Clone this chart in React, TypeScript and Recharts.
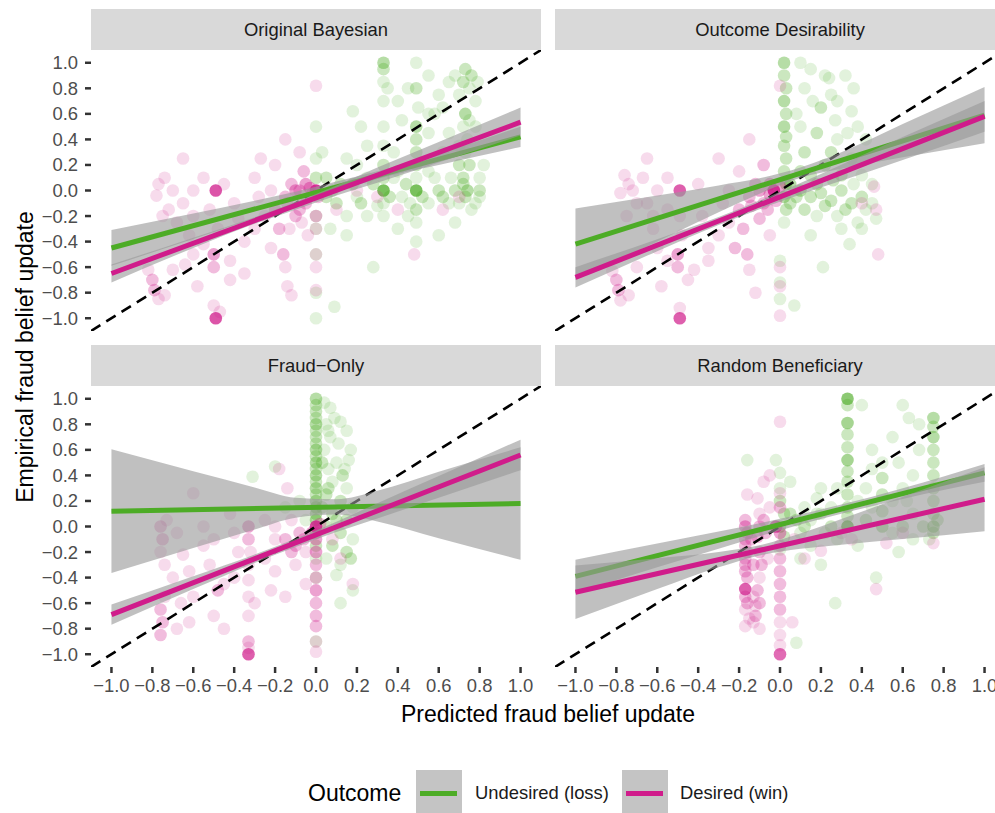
import React from 'react';
import { ComposedChart, Scatter, Line, Area, XAxis, YAxis } from 'recharts';

const FONT = '"Liberation Sans", Arial, Helvetica, sans-serif';
const GREEN = '#4dac26';
const PINK = '#d01c8b';

// [predicted, empirical, how many answers sit on that spot]
type Pt = [number, number, number];

const panelTitles = ['Original Bayesian', 'Outcome Desirability', 'Fraud\u2212Only', 'Random Beneficiary'];
const outcomeLabels = ['Undesired (loss)', 'Desired (win)'];
const axisTicks = [-1, -0.8, -0.6, -0.4, -0.2, 0, 0.2, 0.4, 0.6, 0.8, 1];
const bandX = [-1, -0.6, -0.3, -0.1, 0.1, 0.3, 0.6, 1];
const fitX = [-1, 1];
const identityX = [-1.1, 1.1];

// ---------- Original Bayesian ----------
const obLoss: Pt[] = [
  [0.33, 0, 8], [0.49, 0, 8],
  [0.33, 1.0, 3], [0.33, 0.95, 2], [0.33, 0.85, 1], [0.33, 0.7, 1], [0.33, 0.5, 1], [0.33, 0.35, 1], [0.33, 0.2, 2], [0.33, 0.1, 2], [0.33, -0.1, 1], [0.33, -0.2, 1],
  [0.49, 1.0, 1], [0.49, 0.8, 2], [0.49, 0.5, 3], [0.49, 0.4, 2], [0.49, 0.3, 2], [0.49, 0.2, 2], [0.49, 0.1, 1], [0.49, -0.15, 2], [0.49, -0.4, 1], [0.49, -0.25, 1],
  [0.73, 0.95, 2], [0.76, 0.9, 2], [0.72, 0.85, 2], [0.75, 0.8, 1], [0.7, 0.75, 1], [0.73, 0.6, 3], [0.75, 0.55, 1], [0.72, 0.5, 1], [0.74, 0.4, 1], [0.73, 0.3, 1], [0.75, 0.2, 2], [0.72, 0.1, 2], [0.74, 0.0, 3], [0.73, -0.05, 2], [0.7, -0.1, 1], [0.76, -0.15, 1], [0.72, 0.05, 2],
  [0.65, 0.85, 1], [0.6, 0.75, 1], [0.58, 0.6, 1], [0.65, 0.45, 1], [0.62, 0.3, 1], [0.6, 0.0, 2], [0.65, -0.1, 1], [0.68, -0.25, 1], [0.8, 0.1, 1], [0.8, -0.05, 1], [0.82, 0.2, 1], [0.79, 0.85, 1], [0.78, 0.7, 1],
  [0.4, 0.7, 1], [0.42, 0.55, 1], [0.45, 0.8, 1], [0.38, 0.3, 1], [0.4, 0.15, 1], [0.42, -0.05, 1], [0.4, -0.3, 1], [0.55, 0.9, 1], [0.55, 0.45, 1], [0.55, 0.15, 1], [0.55, -0.1, 1], [0.55, 0.6, 1],
  [0.22, 0.5, 1], [0.25, 0.35, 1], [0.2, 0.2, 1], [0.25, 0.1, 1], [0.2, -0.05, 1], [0.25, -0.2, 1], [0.15, 0.25, 1], [0.12, 0.05, 2], [0.1, -0.1, 2], [0.15, -0.2, 1], [0.15, -0.35, 1], [0.18, 0.62, 1],
  [0.05, 0.1, 2], [0.05, -0.05, 2], [0.07, -0.3, 1], [0.03, 0.3, 1],
  [0, 0.5, 1], [0, 0.25, 1], [0, 0.1, 2], [0, -0.2, 1], [0, -0.3, 1], [0, -0.5, 1], [0, -0.8, 1], [0, -1.0, 1],
  [0.28, -0.6, 1], [0.09, -0.91, 1], [0.6, -0.35, 1], [0.45, -0.2, 1],
  [0.08, 0.0, 2], [0.18, 0.05, 2], [0.22, -0.1, 2], [0.28, 0.05, 2], [0.3, -0.12, 1], [0.36, -0.05, 2], [0.38, 0.1, 1], [0.44, 0.05, 2], [0.46, -0.1, 1], [0.52, -0.05, 2], [0.58, 0.1, 1], [0.62, -0.05, 2], [0.66, 0.1, 1], [0.68, 0.0, 2], [0.78, -0.1, 1], [0.8, 0.0, 2], [0.7, 0.35, 1], [0.78, 0.5, 1], [0.68, 0.9, 1], [0.62, 0.65, 1], [0.7, 0.2, 2], [0.35, 0.8, 1], [0.5, 0.65, 1],
];
const obWin: Pt[] = [
  [-0.49, 0, 8], [-0.49, -1, 8],
  [0, 0, 12], [-0.02, -0.03, 3], [-0.03, 0.02, 3], [0.01, -0.05, 2],
  [0, 0.82, 1], [-0.65, 0.25, 1],
  [-0.74, 0.1, 1], [-0.77, 0.05, 1], [-0.7, 0.0, 1], [-0.78, -0.04, 1], [-0.72, -0.15, 1], [-0.75, -0.2, 1], [-0.68, -0.25, 1],
  [-0.8, -0.7, 2], [-0.79, -0.78, 2], [-0.77, -0.85, 1], [-0.74, -0.82, 1], [-0.82, -0.62, 1], [-0.7, -0.62, 1],
  [-0.62, -0.35, 1], [-0.6, -0.5, 1], [-0.64, -0.58, 1], [-0.58, -0.75, 1], [-0.55, -0.42, 1],
  [-0.5, -0.5, 3], [-0.5, -0.6, 2], [-0.52, -0.15, 1], [-0.48, -0.3, 1], [-0.5, -0.9, 1], [-0.47, -0.95, 1],
  [-0.45, 0.05, 1], [-0.4, -0.1, 1], [-0.38, -0.22, 1], [-0.42, -0.55, 1], [-0.35, -0.65, 1],
  [-0.3, 0.1, 1], [-0.28, -0.05, 1], [-0.25, -0.2, 1], [-0.27, 0.25, 1], [-0.22, -0.45, 1], [-0.2, 0.2, 1],
  [-0.15, 0.4, 1], [-0.12, 0.05, 2], [-0.14, -0.1, 2], [-0.1, -0.2, 2], [-0.13, -0.3, 1], [-0.16, -0.5, 2], [-0.15, -0.6, 1], [-0.14, -0.75, 1], [-0.12, -0.82, 1],
  [-0.08, 0.3, 1], [-0.06, 0.15, 2], [-0.05, -0.1, 2], [-0.07, -0.25, 1], [-0.04, -0.35, 1], [-0.08, 0.0, 2],
  [0, -0.2, 2], [0, -0.3, 1], [0, -0.5, 1], [0, -0.6, 1], [0, -0.78, 1],
  [0.1, -0.15, 1], [0.2, 0.0, 1], [0.3, -0.05, 1], [0.48, -0.5, 1], [0.62, -0.15, 1], [0.7, -0.05, 1], [0.4, -0.15, 1],
  [-0.1, 0.0, 3], [-0.05, 0.05, 3], [-0.15, -0.05, 2], [-0.2, -0.15, 2], [-0.18, -0.3, 2], [-0.08, -0.15, 2], [-0.22, 0.0, 1], [-0.3, -0.3, 1], [-0.35, -0.4, 1], [-0.6, 0.0, 1], [-0.65, -0.1, 1], [-0.6, -0.2, 1], [-0.55, 0.1, 1], [-0.42, -0.7, 1],
];
const obLossFit = [-0.45, 0.42];
const obWinFit = [-0.65, 0.535];
const obLossLo = [-0.59, -0.38, -0.22, -0.11, -0.01, 0.09, 0.2, 0.34];
const obLossHi = [-0.31, -0.18, -0.08, -0.01, 0.07, 0.15, 0.29, 0.5];
const obWinLo = [-0.72, -0.45, -0.26, -0.15, -0.04, 0.06, 0.22, 0.43];
const obWinHi = [-0.58, -0.37, -0.21, -0.09, 0.04, 0.18, 0.38, 0.65];

// ---------- Outcome Desirability ----------
const odLoss: Pt[] = [
  [0.02, 1.0, 3], [0.02, 0.9, 2], [0.03, 0.8, 2], [0.02, 0.7, 3], [0.03, 0.6, 2], [0.02, 0.5, 3], [0.03, 0.42, 2], [0.02, 0.35, 2], [0.03, 0.25, 2], [0.02, 0.15, 2], [0.03, 0.05, 3], [0.02, -0.05, 3], [0.03, -0.15, 2], [0.02, -0.25, 1],
  [0.1, 1.0, 1], [0.15, 0.95, 1], [0.22, 0.9, 1], [0.25, 0.75, 1], [0.36, 0.8, 1], [0.2, 0.65, 2], [0.27, 0.55, 1], [0.35, 0.62, 1], [0.38, 0.5, 1], [0.18, 0.45, 2], [0.28, 0.4, 1], [0.42, 0.4, 1], [0.25, 0.3, 2], [0.22, 0.2, 2], [0.35, 0.25, 1], [0.3, 0.12, 2], [0.12, 0.3, 2], [0.1, 0.15, 2], [0.08, 0.6, 1], [0.12, 0.8, 1], [0.32, 0.9, 1],
  [0.1, 0.0, 3], [0.15, -0.05, 2], [0.2, -0.02, 2], [0.25, -0.08, 2], [0.3, 0.0, 2], [0.35, -0.1, 2], [0.4, -0.05, 2], [0.45, 0.05, 1], [0.12, -0.15, 2], [0.18, -0.2, 1], [0.28, -0.2, 1], [0.38, -0.25, 1], [0.42, -0.15, 1], [0.05, -0.1, 2], [0.47, -0.22, 1],
  [0.34, -0.42, 1], [0.21, -0.6, 1], [0.07, -0.9, 1], [0.4, -0.3, 1], [0.15, -0.35, 1],
  [0, -0.55, 1], [0, -0.72, 1], [0, -0.85, 1],
  [0.05, 0.05, 3], [0.08, -0.05, 2], [0.18, 0.05, 2], [0.22, -0.12, 2], [0.26, 0.08, 2], [0.32, -0.15, 2], [0.36, 0.05, 1], [0.4, 0.12, 1], [0.15, 0.12, 2], [0.3, -0.3, 1], [0.1, 0.5, 1], [0.16, 0.7, 1], [0.28, 0.7, 1], [0.33, 0.45, 1], [0.24, 0.88, 1], [0.45, -0.1, 1],
];
const odWin: Pt[] = [
  [-0.49, 0, 7], [-0.49, -1, 7],
  [-0.03, 0.0, 12], [-0.05, -0.03, 3], [0.0, 0.03, 3], [-0.02, -0.08, 2],
  [0, 0.82, 1], [-0.65, 0.25, 1],
  [-0.76, 0.12, 1], [-0.74, 0.05, 1], [-0.78, -0.02, 1], [-0.7, -0.1, 1], [-0.75, -0.2, 1], [-0.72, 0.0, 1], [-0.67, 0.1, 1],
  [-0.8, -0.7, 2], [-0.79, -0.78, 2], [-0.78, -0.86, 1], [-0.74, -0.82, 1], [-0.82, -0.63, 1], [-0.7, -0.6, 1],
  [-0.62, -0.3, 1], [-0.6, -0.45, 1], [-0.58, -0.75, 1], [-0.55, -0.55, 1], [-0.55, -0.15, 1],
  [-0.5, -0.5, 3], [-0.5, -0.6, 2], [-0.49, -0.2, 1], [-0.48, -0.35, 1], [-0.49, -0.92, 1],
  [-0.4, 0.05, 1], [-0.38, -0.2, 1], [-0.42, -0.62, 1], [-0.35, -0.45, 1], [-0.3, 0.25, 1], [-0.28, -0.1, 1], [-0.25, -0.25, 1], [-0.22, -0.45, 2], [-0.2, 0.15, 1],
  [-0.15, 0.4, 1], [-0.12, 0.05, 2], [-0.14, -0.12, 2], [-0.1, -0.22, 2], [-0.16, -0.5, 2], [-0.15, -0.62, 1], [-0.12, -0.8, 1], [-0.05, -0.35, 1], [-0.08, 0.2, 2], [-0.06, -0.15, 2],
  [0, -0.6, 1], [0, -0.75, 1], [0, -0.98, 1], [0.47, -0.15, 1], [0.48, -0.5, 1], [0.46, 0.03, 1], [0.4, -0.1, 1],
  [-0.1, 0.0, 3], [-0.05, 0.05, 3], [-0.15, -0.05, 2], [-0.2, -0.15, 2], [-0.18, -0.3, 2], [-0.08, -0.1, 2], [-0.25, 0.0, 1], [-0.3, -0.35, 1], [-0.6, 0.0, 1], [-0.65, -0.1, 1], [-0.62, -0.2, 1], [-0.55, 0.1, 1], [-0.45, -0.7, 1], [-0.35, -0.55, 1],
];
const odLossFit = [-0.42, 0.59];
const odWinFit = [-0.68, 0.58];
const odLossLo = [-0.7, -0.4, -0.17, -0.025, 0.1, 0.17, 0.26, 0.37];
const odLossHi = [-0.14, -0.04, 0.04, 0.095, 0.18, 0.3, 0.52, 0.81];
const odWinLo = [-0.76, -0.475, -0.27, -0.147, -0.032, 0.076, 0.238, 0.46];
const odWinHi = [-0.6, -0.381, -0.208, -0.079, 0.058, 0.202, 0.418, 0.7];

// ---------- Fraud-Only ----------
const foLoss: Pt[] = [
  [0, 1.0, 3], [0, 0.95, 2], [0, 0.9, 2], [0, 0.85, 2], [0, 0.8, 3], [0, 0.75, 2], [0, 0.7, 2], [0, 0.65, 2], [0, 0.6, 3], [0, 0.55, 2], [0, 0.5, 3], [0, 0.45, 2], [0, 0.4, 3], [0, 0.35, 2], [0, 0.3, 3], [0, 0.25, 2], [0, 0.2, 3], [0, 0.15, 3], [0, 0.1, 3], [0, 0.05, 3], [0, -0.05, 2], [0, -0.15, 2], [0, -0.25, 1], [0, -0.4, 1], [0, -0.9, 1],
  [0.04, 0.97, 1], [0.07, 0.93, 1], [0.09, 0.85, 1], [0.12, 0.82, 1], [0.05, 0.8, 1], [0.15, 0.75, 1], [0.07, 0.7, 1], [0.11, 0.65, 1], [0.17, 0.6, 1], [0.04, 0.6, 1], [0.16, 0.52, 1], [0.1, 0.5, 1], [0.06, 0.45, 1], [0.13, 0.4, 2], [0.08, 0.35, 1], [0.15, 0.3, 1], [0.05, 0.25, 2], [0.12, 0.2, 2], [0.18, 0.15, 1], [0.08, 0.1, 2], [0.15, 0.05, 2], [0.05, 0.0, 2], [0.12, -0.05, 2], [0.18, -0.1, 1], [0.08, -0.15, 2], [0.15, -0.2, 2], [0.05, -0.25, 1], [0.12, -0.3, 1], [0.17, -0.25, 2], [0.1, -0.38, 1], [0.18, -0.5, 1], [0.12, -0.6, 1],
  [-0.31, 0.39, 1], [-0.2, 0.47, 1], [-0.15, 0.15, 1], [-0.08, 0.2, 1], [-0.05, 0.05, 1],
  [0.03, 0.15, 2], [0.06, 0.3, 2], [0.03, 0.5, 2], [0.06, 0.75, 1], [0.1, 0.05, 2], [0.14, 0.45, 1],
];
const foWin: Pt[] = [
  [-0.33, -1.0, 7], [-0.33, -0.9, 2], [-0.33, -0.95, 1],
  [-0.33, 0.0, 3], [-0.33, -0.1, 2], [-0.33, -0.3, 1], [-0.33, -0.42, 1], [-0.33, -0.55, 1], [-0.33, -0.7, 1], [-0.32, -0.2, 1],
  [0, 0, 10], [-0.02, -0.05, 3], [0.02, 0.02, 2],
  [0, -0.1, 3], [0, -0.2, 3], [0, -0.3, 2], [0, -0.4, 2], [0, -0.5, 3], [0, -0.6, 2], [0, -0.7, 2], [0, -0.78, 2], [0, -0.9, 1], [0, -0.98, 1],
  [-0.76, 0.0, 2], [-0.75, -0.1, 2], [-0.76, -0.2, 1], [-0.74, -0.3, 1], [-0.76, -0.65, 2], [-0.75, -0.75, 2], [-0.76, -0.85, 2], [-0.74, -0.55, 1], [-0.73, 0.05, 1],
  [-0.6, 0.26, 1], [-0.68, -0.05, 1], [-0.65, -0.22, 1], [-0.62, -0.35, 1], [-0.66, -0.6, 1], [-0.68, -0.8, 1], [-0.6, -0.55, 1],
  [-0.55, 0.0, 1], [-0.5, -0.1, 1], [-0.52, -0.3, 1], [-0.48, -0.5, 2], [-0.45, -0.45, 1], [-0.5, -0.7, 1], [-0.45, -0.8, 1],
  [-0.42, 0.1, 1], [-0.4, -0.05, 1], [-0.38, -0.2, 1], [-0.4, -0.4, 1], [-0.25, -0.25, 1], [-0.22, -0.5, 1], [-0.2, -0.35, 1], [-0.25, 0.05, 1], [-0.2, -0.1, 1], [-0.15, -0.55, 1], [-0.12, 0.05, 1], [-0.1, -0.15, 2], [-0.08, -0.05, 2], [-0.05, -0.2, 1], [-0.1, -0.3, 1], [-0.05, -0.45, 1], [-0.14, 0.3, 1], [-0.18, 0.45, 1],
  [0.08, -0.1, 1], [0.12, -0.25, 1], [0.18, -0.45, 1],
  [-0.15, -0.1, 2], [-0.12, -0.2, 2], [-0.06, -0.1, 2], [-0.2, 0.0, 1], [-0.3, -0.6, 1], [-0.55, -0.15, 1], [-0.7, -0.4, 1], [-0.62, -0.75, 1],
];
const foLossFit = [0.12, 0.18];
const foWinFit = [-0.69, 0.56];
const foLossLo = [-0.365, -0.168, -0.024, 0.069, 0.093, 0.039, -0.092, -0.26];
const foLossHi = [0.605, 0.432, 0.306, 0.225, 0.213, 0.279, 0.428, 0.62];
const foWinLo = [-0.77, -0.49, -0.285, -0.16, -0.043, 0.063, 0.225, 0.44];
const foWinHi = [-0.61, -0.39, -0.22, -0.095, 0.038, 0.183, 0.395, 0.68];

// ---------- Random Beneficiary ----------
const rbLoss: Pt[] = [
  [0.33, 1.0, 6], [0.33, 0.95, 2], [0.33, 0.81, 4], [0.33, 0.72, 2], [0.33, 0.62, 2], [0.33, 0.52, 4], [0.33, 0.43, 2], [0.33, 0.35, 2], [0.33, 0.25, 2], [0.33, 0.15, 2], [0.33, 0.0, 8], [0.33, 0.08, 2],
  [0.75, 0.85, 3], [0.75, 0.78, 2], [0.75, 0.7, 3], [0.75, 0.6, 2], [0.75, 0.5, 2], [0.75, 0.4, 2], [0.75, 0.3, 2], [0.75, 0.2, 2], [0.75, 0.1, 2], [0.75, 0.0, 3], [0.75, -0.05, 2], [0.73, -0.1, 1], [0.77, 0.05, 2],
  [0.5, 0.5, 1], [0.5, 0.38, 2], [0.5, 0.25, 2], [0.5, 0.12, 2], [0.5, 0.0, 3], [0.47, -0.4, 1],
  [0.6, 0.95, 1], [0.63, 0.85, 1], [0.6, 0.0, 2], [0.62, 0.2, 1], [0.65, 0.4, 1], [0.68, 0.6, 1], [0.55, 0.7, 1], [0.45, 0.6, 1], [0.4, 0.95, 1], [0.42, 0.3, 1], [0.42, 0.05, 2], [0.55, -0.05, 1], [0.65, -0.1, 1], [0.58, -0.2, 1], [0.38, -0.15, 1],
  [0, 0.3, 1], [0, 0.2, 2], [0.02, 0.1, 2], [0, 0.0, 3], [0.02, -0.08, 2], [0, -0.18, 1], [0.08, 0.05, 2], [0.1, -0.05, 1], [0.12, 0.15, 1], [0.15, 0.05, 1], [0.18, 0.22, 1], [0.2, 0.1, 1], [0.22, -0.05, 1], [0.25, 0.15, 1], [0.28, 0.3, 1], [0.15, -0.15, 1], [0.1, -0.25, 1], [0.2, -0.3, 1], [0.05, 0.35, 1],
  [-0.16, 0.52, 1], [-0.02, 0.52, 1], [0, 0.42, 1], [0.27, -0.6, 1], [0.08, -0.91, 1], [0.2, 0.3, 1],
  [0.05, 0.1, 2], [0.12, 0.0, 2], [0.18, 0.1, 1], [0.25, 0.0, 2], [0.28, -0.1, 1], [0.38, 0.2, 1], [0.45, 0.15, 1], [0.55, 0.2, 1], [0.6, 0.3, 1], [0.65, 0.1, 1], [0.7, 0.0, 2], [0.68, 0.8, 1], [0.58, 0.5, 1], [0.45, 0.45, 1],
];
const rbWin: Pt[] = [
  [-0.17, 0.05, 2], [-0.17, 0.0, 3], [-0.16, -0.05, 2], [-0.17, -0.1, 2], [-0.17, -0.15, 2], [-0.16, -0.2, 2], [-0.17, -0.25, 2], [-0.17, -0.3, 2], [-0.17, -0.35, 2], [-0.16, -0.4, 2], [-0.17, -0.49, 7], [-0.17, -0.55, 2], [-0.16, -0.6, 2], [-0.17, -0.65, 1], [-0.15, -0.72, 1], [-0.17, -0.78, 1],
  [-0.1, 0.1, 1], [-0.1, 0.0, 2], [-0.11, -0.08, 2], [-0.1, -0.2, 2], [-0.09, -0.3, 2], [-0.1, -0.4, 1], [-0.11, -0.5, 2], [-0.1, -0.6, 2], [-0.12, -0.7, 2], [-0.1, -0.8, 1], [-0.13, -0.75, 1],
  [0, 0.26, 1], [0, 0.15, 2], [-0.02, 0.0, 8], [0, -0.05, 3], [0, -0.15, 2], [0, -0.25, 2], [0, -0.35, 2], [0, -0.45, 2], [0, -0.55, 2], [0, -0.65, 2], [0, -0.75, 1], [0, -0.85, 1], [0, -0.93, 1], [0, -1.0, 6],
  [0, 0.82, 1], [-0.05, 0.4, 1], [-0.08, 0.35, 1], [-0.16, 0.25, 1], [-0.11, 0.22, 1], [-0.05, 0.15, 1],
  [0.2, -0.19, 1], [0.47, -0.49, 1], [0.52, -0.13, 1], [0.75, -0.13, 1], [0.07, -0.1, 1], [0.12, -0.25, 1], [0.3, -0.05, 1], [0.35, -0.1, 1], [0.6, -0.05, 1], [0.06, -0.75, 1],
  [-0.14, -0.1, 2], [-0.13, -0.3, 2], [-0.07, -0.05, 2], [-0.06, -0.25, 1], [-0.13, -0.55, 1], [-0.08, 0.05, 2], [-0.12, -0.62, 1],
];
const rbLossFit = [-0.39, 0.42];
const rbWinFit = [-0.515, 0.213];
const rbLossLo = [-0.52, -0.32, -0.175, -0.076, 0.016, 0.1, 0.216, 0.35];
const rbLossHi = [-0.26, -0.133, -0.039, 0.025, 0.096, 0.172, 0.3, 0.49];
const rbWinLo = [-0.725, -0.49, -0.32, -0.227, -0.175, -0.142, -0.098, -0.037];
const rbWinHi = [-0.305, -0.249, -0.2, -0.147, -0.055, 0.058, 0.232, 0.463];

const panels = [
  { loss: obLoss, win: obWin, lossFit: obLossFit, winFit: obWinFit, lossLo: obLossLo, lossHi: obLossHi, winLo: obWinLo, winHi: obWinHi },
  { loss: odLoss, win: odWin, lossFit: odLossFit, winFit: odWinFit, lossLo: odLossLo, lossHi: odLossHi, winLo: odWinLo, winHi: odWinHi },
  { loss: foLoss, win: foWin, lossFit: foLossFit, winFit: foWinFit, lossLo: foLossLo, lossHi: foLossHi, winLo: foWinLo, winHi: foWinHi },
  { loss: rbLoss, win: rbWin, lossFit: rbLossFit, winFit: rbWinFit, lossLo: rbLossLo, lossHi: rbLossHi, winLo: rbWinLo, winHi: rbWinHi },
];

// panel geometry (plot area of each facet)
const PW = 450;
const PH = 281;
const colLeft = [91, 555];
const rowTop = [50, 386];
const STRIP = 41;
const YW = 70;
const XH = 36;

const fmt = (v: number) => (v < 0 ? '\u2212' : '') + Math.abs(v).toFixed(1);

const dotShape = (color: string) => (props: any) => {
  const { cx, cy, payload } = props;
  if (cx == null || cy == null) return <g />;
  const n = payload && payload.n ? payload.n : 1;
  return <circle cx={cx} cy={cy} r={6.3} fill={color} fillOpacity={1 - Math.pow(0.84, n)} />;
};

const tickStyle = { fill: '#4d4d4d', fontSize: 18.4, fontFamily: FONT };
const tickLine = { stroke: '#333333', strokeWidth: 2.5 };

function Facet({ idx }: { idx: number }) {
  const p = panels[idx];
  const col = idx % 2;
  const row = Math.floor(idx / 2);
  const showY = col === 0;
  const showX = row === 1;
  const yw = showY ? YW : 0;
  const xh = showX ? XH : 0;

  const bands = bandX.map((x, i) => ({ x, g: [p.lossLo[i], p.lossHi[i]], m: [p.winLo[i], p.winHi[i]] }));
  const lossPts = p.loss.map(([x, y, n]) => ({ x, y, n }));
  const winPts = p.win.map(([x, y, n]) => ({ x, y, n }));
  const lossLine = fitX.map((x, i) => ({ x, y: p.lossFit[i] }));
  const winLine = fitX.map((x, i) => ({ x, y: p.winFit[i] }));
  const identity = identityX.map((x) => ({ x, y: x }));

  return (
    <>
      <div
        style={{
          position: 'absolute',
          left: colLeft[col],
          top: rowTop[row] - STRIP,
          width: PW,
          height: STRIP,
          background: '#d9d9d9',
          color: '#1a1a1a',
          fontSize: 18.4,
          lineHeight: `${STRIP}px`,
          textAlign: 'center',
        }}
      >
        {panelTitles[idx]}
      </div>
      <div style={{ position: 'absolute', left: colLeft[col] - yw, top: rowTop[row] }}>
        <ComposedChart
          width={PW + yw}
          height={PH + xh}
          data={bands}
          margin={{ top: 0, right: 0, bottom: 0, left: 0 }}
        >
          <XAxis
            type="number"
            dataKey="x"
            domain={[-1.1, 1.1]}
            allowDataOverflow
            ticks={axisTicks}
            interval={0}
            tickFormatter={fmt}
            hide={!showX}
            height={XH}
            axisLine={false}
            tickLine={tickLine}
            tickSize={6}
            tickMargin={6}
            tick={tickStyle}
          />
          <YAxis
            type="number"
            dataKey="y"
            domain={[-1.1, 1.1]}
            allowDataOverflow
            ticks={axisTicks}
            interval={0}
            tickFormatter={fmt}
            hide={!showY}
            width={YW}
            axisLine={false}
            tickLine={tickLine}
            tickSize={6}
            tickMargin={7}
            tick={tickStyle}
          />
          <Scatter data={lossPts} dataKey="y" fill={GREEN} shape={dotShape(GREEN)} isAnimationActive={false} zIndex={100} />
          <Scatter data={winPts} dataKey="y" fill={PINK} shape={dotShape(PINK)} isAnimationActive={false} zIndex={101} />
          <Line
            data={identity}
            dataKey="y"
            stroke="#000000"
            strokeWidth={2.6}
            strokeDasharray="11 7"
            dot={false}
            activeDot={false}
            isAnimationActive={false}
            zIndex={102}
          />
          <Area dataKey="g" type="monotone" stroke="none" fill="#999999" fillOpacity={0.62} isAnimationActive={false} zIndex={103} />
          <Line data={lossLine} dataKey="y" stroke={GREEN} strokeWidth={5} dot={false} activeDot={false} isAnimationActive={false} zIndex={104} />
          <Area dataKey="m" type="monotone" stroke="none" fill="#999999" fillOpacity={0.62} isAnimationActive={false} zIndex={105} />
          <Line data={winLine} dataKey="y" stroke={PINK} strokeWidth={5} dot={false} activeDot={false} isAnimationActive={false} zIndex={106} />
        </ComposedChart>
      </div>
    </>
  );
}

function LegendKey({ left, color }: { left: number; color: string }) {
  return (
    <div style={{ position: 'absolute', left, top: 770, width: 46, height: 46, background: '#c4c4c4' }}>
      <div style={{ position: 'absolute', left: 4, top: 21, width: 37, height: 5, background: color }} />
    </div>
  );
}

export default function App() {
  return (
    <div
      style={{
        position: 'fixed',
        left: 0,
        top: 0,
        width: 995,
        height: 813,
        overflow: 'hidden',
        background: '#ffffff',
        fontFamily: FONT,
      }}
    >
      {panels.map((_, i) => (
        <Facet key={i} idx={i} />
      ))}

      <div
        style={{
          position: 'absolute',
          left: 25,
          top: 357,
          transform: 'translate(-50%, -50%) rotate(-90deg)',
          fontSize: 23,
          color: '#000',
          whiteSpace: 'nowrap',
        }}
      >
        Empirical fraud belief update
      </div>
      <div
        style={{
          position: 'absolute',
          left: 548,
          top: 714,
          transform: 'translate(-50%, -50%)',
          fontSize: 23,
          color: '#000',
          whiteSpace: 'nowrap',
        }}
      >
        Predicted fraud belief update
      </div>

      <div style={{ position: 'absolute', left: 308, top: 793, transform: 'translateY(-50%)', fontSize: 23, color: '#000' }}>
        Outcome
      </div>
      <LegendKey left={416} color={GREEN} />
      <div style={{ position: 'absolute', left: 475, top: 793, transform: 'translateY(-50%)', fontSize: 18.4, color: '#1a1a1a', whiteSpace: 'nowrap' }}>
        {outcomeLabels[0]}
      </div>
      <LegendKey left={622} color={PINK} />
      <div style={{ position: 'absolute', left: 680, top: 793, transform: 'translateY(-50%)', fontSize: 18.4, color: '#1a1a1a', whiteSpace: 'nowrap' }}>
        {outcomeLabels[1]}
      </div>
    </div>
  );
}
